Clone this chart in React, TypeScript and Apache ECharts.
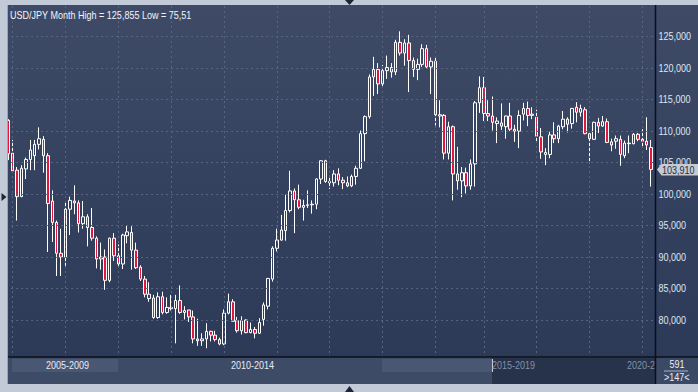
import { useEffect, useRef } from 'react';
import * as echarts from 'echarts';

const FONT = "'Liberation Sans', Arial, sans-serif";
const SX = 0.86;

const months: string[] = [];
for (let y = 2008; y <= 2020; y++) {
  for (let m = 1; m <= 12; m++) {
    if (y === 2020 && m > 3) break;
    months.push(`${y}-${String(m).padStart(2, '0')}`);
  }
}

const opens = [
  111.7, 106.5, 103.8, 99.6, 104.0, 105.5, 106.1, 107.9, 108.7, 106.1, 98.9, 95.5,
  90.6, 90.0, 97.6, 98.9, 98.6, 95.3, 96.4, 94.7, 93.0, 89.7, 90.0, 86.3,
  93.0, 90.2, 88.9, 93.4, 93.9, 91.1, 88.4, 86.5, 83.4, 83.5, 80.4, 83.7,
  81.2, 82.0, 81.8, 83.1, 81.2, 81.6, 80.5, 77.0, 76.7, 77.0, 78.2, 77.6,
  76.9, 76.2, 81.1, 82.9, 79.9, 78.3, 80.0, 78.0, 78.5, 77.9, 80.1, 82.2,
  86.5, 91.4, 92.7, 94.2, 97.4, 100.5, 99.1, 97.9, 98.2, 98.3, 98.4, 102.4,
  105.3, 102.0, 101.8, 103.2, 102.2, 101.8, 101.3, 102.8, 104.1, 109.6, 112.3, 118.6,
  119.8, 117.5, 119.6, 120.1, 119.4, 124.1, 122.4, 124.0, 121.2, 119.8, 120.6, 123.1,
  120.2, 121.1, 112.4, 112.5, 106.5, 110.7, 103.2, 102.1, 103.4, 101.3, 104.8, 114.5,
  116.9, 112.8, 112.4, 111.2, 111.3, 110.7, 112.4, 110.3, 110.0, 112.7, 113.6, 112.5,
  112.2, 109.1, 106.3, 106.3, 109.4, 108.8, 110.7, 111.9, 111.2, 113.8, 113.0, 113.4,
  109.6, 108.7, 111.4, 110.8, 111.5, 108.3, 108.4, 108.7, 106.1, 108.1, 108.0, 109.5,
  108.7, 108.4, 107.4,
];
const closes = [
  106.4, 103.7, 99.6, 104.1, 105.5, 107.0, 107.9, 108.8, 106.1, 98.5, 95.5, 90.6,
  90.0, 97.6, 99.0, 98.6, 95.3, 96.4, 94.7, 93.0, 89.7, 90.0, 86.3, 93.0,
  90.2, 88.9, 93.5, 94.0, 91.1, 88.3, 86.5, 84.1, 84.1, 80.4, 83.7, 81.2,
  82.0, 81.8, 83.1, 81.2, 81.5, 80.5, 77.0, 76.7, 77.0, 78.2, 77.6, 76.9,
  76.2, 81.1, 82.9, 79.8, 78.3, 79.9, 78.0, 78.5, 77.9, 79.6, 82.4, 86.6,
  91.4, 92.7, 94.3, 97.4, 100.5, 99.1, 97.9, 98.2, 98.3, 98.4, 102.4, 105.3,
  102.0, 101.8, 103.2, 102.2, 101.8, 101.3, 102.8, 104.1, 109.6, 112.3, 118.6, 119.8,
  117.5, 119.6, 120.1, 119.4, 124.1, 122.4, 124.0, 121.2, 119.8, 120.6, 123.1, 120.2,
  121.1, 112.6, 112.6, 106.5, 110.7, 103.2, 102.1, 103.4, 101.3, 104.8, 114.5, 116.9,
  112.8, 112.4, 111.4, 111.6, 110.8, 112.4, 110.3, 110.0, 112.5, 113.6, 112.5, 112.7,
  109.2, 106.7, 106.6, 109.4, 108.8, 110.8, 111.9, 111.1, 113.6, 113.0, 113.6, 109.6,
  108.8, 111.4, 110.8, 111.5, 108.2, 107.8, 108.8, 106.3, 108.1, 108.0, 109.5, 108.7,
  108.4, 107.8, 103.91,
];
const lows = [
  105.4, 103.5, 95.8, 99.5, 102.4, 103.8, 103.8, 107.1, 103.4, 90.8, 92.4, 87.0,
  87.0, 88.6, 93.5, 96.8, 93.9, 94.5, 91.7, 92.6, 88.2, 88.0, 84.8, 86.0,
  89.4, 88.5, 88.1, 92.2, 88.0, 88.1, 86.2, 83.6, 82.9, 80.2, 80.2, 80.9,
  81.0, 81.5, 76.3, 81.0, 80.1, 79.7, 76.3, 75.9, 75.9, 75.51, 76.6, 76.6,
  76.0, 76.0, 80.9, 79.8, 78.0, 77.7, 77.9, 77.9, 77.1, 77.8, 79.1, 81.7,
  86.1, 90.9, 92.6, 92.6, 97.1, 93.8, 97.6, 95.8, 97.8, 96.9, 97.6, 101.6,
  101.8, 100.8, 101.2, 101.4, 100.8, 101.1, 101.1, 101.5, 104.0, 105.2, 112.0, 115.6,
  115.9, 116.9, 118.3, 118.5, 118.9, 122.0, 120.4, 116.2, 118.6, 118.1, 120.2, 119.9,
  115.9, 110.9, 110.6, 105.5, 105.5, 99.0, 100.7, 99.5, 100.1, 100.7, 101.2, 112.9,
  111.6, 111.6, 110.1, 108.1, 110.2, 108.8, 110.0, 108.3, 107.3, 111.7, 110.8, 111.9,
  108.3, 105.6, 104.6, 105.7, 108.1, 108.1, 110.3, 109.8, 110.4, 111.4, 112.3, 109.5,
  104.9, 108.6, 109.7, 110.7, 108.1, 106.8, 107.2, 104.5, 105.7, 106.5, 107.9, 108.4,
  107.6, 107.0, 101.2,
];
const highs = [
  111.9, 108.6, 104.3, 104.6, 105.8, 108.6, 108.6, 110.6, 109.2, 106.5, 100.6, 95.8,
  94.5, 98.8, 99.6, 101.4, 99.0, 98.9, 96.8, 97.8, 93.3, 92.3, 91.2, 93.1,
  93.8, 92.0, 93.7, 95.0, 94.9, 92.3, 88.7, 87.0, 86.0, 84.0, 84.4, 84.5,
  83.6, 84.0, 84.0, 85.5, 82.2, 81.6, 81.5, 80.2, 77.9, 79.5, 78.3, 78.3,
  77.2, 81.7, 84.2, 83.3, 80.5, 80.6, 80.1, 79.6, 78.9, 80.3, 82.8, 86.7,
  91.7, 94.5, 96.7, 99.9, 103.7, 100.9, 101.5, 99.1, 100.6, 99.0, 102.5, 105.4,
  105.45, 102.9, 103.8, 104.1, 102.7, 102.8, 103.1, 104.5, 110.1, 112.5, 119.0, 121.8,
  120.8, 120.5, 122.0, 120.8, 124.5, 125.855, 124.6, 125.3, 121.7, 121.5, 123.8, 123.7,
  121.7, 121.7, 114.9, 112.7, 111.5, 110.9, 107.5, 104.3, 104.2, 105.5, 114.8, 118.7,
  118.6, 114.9, 115.5, 112.2, 114.4, 112.5, 114.5, 111.0, 113.3, 114.5, 114.7, 113.8,
  113.4, 110.5, 107.3, 109.9, 111.4, 111.0, 113.2, 112.2, 113.7, 114.6, 114.2, 113.8,
  110.0, 111.5, 112.1, 112.4, 112.0, 108.8, 109.3, 109.3, 108.5, 109.3, 109.7, 109.7,
  110.3, 112.2, 108.6,
];

const yearLines = [
  '2008-02', '2009-02', '2010-02', '2011-02', '2012-02', '2013-02', '2014-02', '2015-02',
  '2016-02', '2017-01', '2018-01', '2019-01', '2020-01',
];
const priceTicks = [80, 85, 90, 95, 100, 105, 110, 115, 120, 125];
const navLabels = ['2005-2009', '2010-2014', '2015-2019', '2020-2'];
const titleText = 'USD/JPY Month High = 125,855 Low = 75,51';
const totalBars = '591';
const visibleBars = '>147<';
const lastClose = closes[closes.length - 1];

const fmt = (v: number) => v.toFixed(3).replace('.', ',');

function txt(id: string, x: number, y: number, text: string, fill: string, align: string, z: number, size = 10.5) {
  return {
    type: 'text', id, z, x, y, scaleX: SX, scaleY: 1,
    style: { text, fill, font: `${size}px ${FONT}`, align, verticalAlign: 'middle' },
  };
}

function buildGraphic(priceY: number, tickYs: number[]) {
  const frame = '#c2cad7';
  const els: any[] = [
    { type: 'rect', id: 'fl', z: 100, shape: { x: 0, y: 0, width: 8, height: 392 }, style: { fill: frame } },
    { type: 'rect', id: 'fll', z: 100, shape: { x: 7, y: 5, width: 1, height: 380 }, style: { fill: '#9aa4b4' } },
    { type: 'rect', id: 'ft', z: 100, shape: { x: 0, y: 0, width: 698, height: 5 }, style: { fill: frame } },
    { type: 'rect', id: 'fb', z: 100, shape: { x: 0, y: 384, width: 698, height: 8 }, style: { fill: frame } },
    { type: 'rect', id: 'nav', z: 100, shape: { x: 8, y: 357, width: 647, height: 27 }, style: { fill: '#3e4b66' } },
    { type: 'rect', id: 'nb1', z: 101, shape: { x: 12, y: 359, width: 106, height: 13 }, style: { fill: '#4a5773' } },
    { type: 'rect', id: 'nb2', z: 101, shape: { x: 382, y: 359, width: 110, height: 13 }, style: { fill: '#4a5773' } },
    { type: 'rect', id: 'nb3', z: 101, shape: { x: 492, y: 358, width: 163, height: 26 }, style: { fill: '#27334b' } },
    { type: 'rect', id: 'nbl', z: 102, shape: { x: 492, y: 359, width: 1, height: 13 }, style: { fill: '#c8d0dc' } },
    txt('nt1', 65 - 19, 365.5, navLabels[0], '#e6ecf5', 'left', 103),
    txt('nt2', 250 - 19, 365.5, navLabels[1], '#e6ecf5', 'left', 103),
    txt('nt3', 492, 365.5, navLabels[2], '#8391a9', 'left', 103),
    txt('nt4', 627, 365.5, navLabels[3], '#8391a9', 'left', 103),
    { type: 'rect', id: 'rb', z: 104, shape: { x: 655, y: 357, width: 43, height: 27 }, style: { fill: '#3c4964' } },
    { type: 'line', id: 'hl', z: 105, shape: { x1: 8, y1: 357, x2: 698, y2: 357 }, style: { stroke: '#0b0f18', lineWidth: 1.5 } },
    { type: 'line', id: 'vl', z: 105, shape: { x1: 655.5, y1: 5, x2: 655.5, y2: 384 }, style: { stroke: '#0b0f18', lineWidth: 1.5 } },
    txt('rt1', 669.5, 364.5, totalBars, '#e8eef8', 'left', 105),
    { type: 'line', id: 'rl', z: 105, shape: { x1: 664, y1: 371, x2: 688, y2: 371 }, style: { stroke: '#aab4c4', lineWidth: 1 } },
    txt('rt2', 664, 377.5, visibleBars, '#e8eef8', 'left', 105),
    { type: 'polygon', id: 'al', z: 106, shape: { points: [[1.5, 193], [6.5, 197], [1.5, 201]] }, style: { fill: '#1d2639' } },
    { type: 'polygon', id: 'at', z: 106, shape: { points: [[345, 0], [354, 0], [349.5, 5]] }, style: { fill: '#1d2639' } },
    { type: 'polygon', id: 'ab', z: 106, shape: { points: [[345, 392], [354, 392], [349.5, 386]] }, style: { fill: '#1d2639' } },
    txt('title', 10, 15, titleText, '#f2f5fa', 'left', 106),
    ...tickYs.map((y, i) => txt(`yl${i}`, 658.5, y, fmt(priceTicks[i]), '#dde6f3', 'left', 50)),
    { type: 'polygon', id: 'pa', z: 107, shape: { points: [[657, priceY], [661.5, priceY - 5.5], [698, priceY - 5.5], [698, priceY + 6], [661.5, priceY + 6]] }, style: { fill: '#c5cad3' } },
    txt('pt', 662, priceY + 0.5, fmt(lastClose), '#1f2c45', 'left', 108),
  ];
  return els;
}

export default function App() {
  const ref = useRef<HTMLDivElement>(null);
  useEffect(() => {
    if (!ref.current) return;
    const chart = echarts.init(ref.current, undefined, { renderer: 'svg' });
    const candleData = months.map((_, i) => [opens[i], closes[i], lows[i], highs[i]]);
    const gridStyle = { color: '#586580', width: 1, type: [2, 3] as any };
    const option: any = {
      animation: false,
      grid: { left: 6.1, top: 5.2, width: 647.2, height: 377.8, containLabel: false },
      xAxis: {
        type: 'category',
        data: months,
        boundaryGap: true,
        axisLine: { show: false },
        axisTick: { show: false },
        axisLabel: { show: false },
        splitLine: { show: false },
      },
      yAxis: {
        type: 'value',
        position: 'right',
        min: 70,
        max: 130,
        interval: 5,
        axisLine: { show: false },
        axisTick: { show: false },
        splitLine: { show: false },
        axisLabel: { show: false },
      },
      series: [
        {
          type: 'line',
          data: [],
          z: 1,
          silent: true,
          markLine: {
            silent: true,
            symbol: ['none', 'none'],
            label: { show: false },
            lineStyle: gridStyle,
            emphasis: { disabled: true },
            data: [
              ...yearLines.map((c) => ({ xAxis: c })),
              ...priceTicks.map((v) => ({ yAxis: v })),
            ],
          },
        },
        {
          type: 'candlestick',
          data: candleData,
          barWidth: 3,
          z: 3,
          itemStyle: {
            color: 'rgba(0,0,0,0)',
            color0: '#e3173e',
            borderColor: '#ffffff',
            borderColor0: '#ffffff',
            borderColorDoji: '#ffffff',
            borderWidth: 1,
          },
        },
      ],
    };
    chart.setOption(option);
    const py = chart.convertToPixel({ yAxisIndex: 0 }, lastClose) as number;
    const tys = priceTicks.map((v) => chart.convertToPixel({ yAxisIndex: 0 }, v) as number);
    chart.setOption({ graphic: buildGraphic(py, tys) });
    return () => chart.dispose();
  }, []);
  return (
    <div
      ref={ref}
      style={{
        position: 'fixed',
        left: 0,
        top: 0,
        width: 698,
        height: 392,
        background: 'linear-gradient(to bottom, #3f4b66 0%, #35425f 45%, #2c3a58 92%)',
      }}
    />
  );
}
